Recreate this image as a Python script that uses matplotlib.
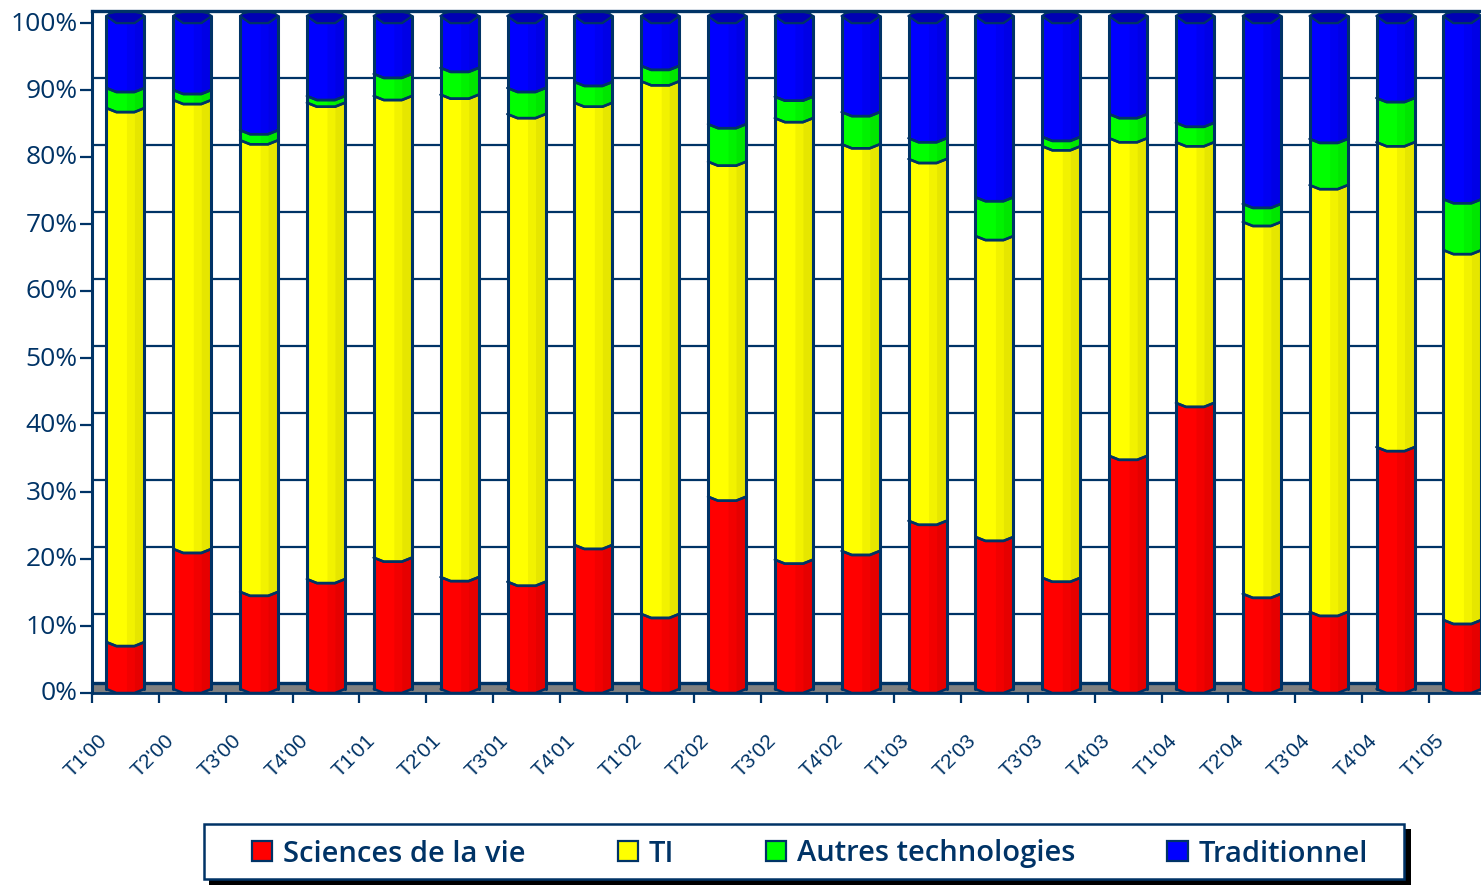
# -*- coding: utf-8 -*-
import numpy as np, matplotlib.pyplot as plt
from matplotlib.patches import Patch, Polygon, Rectangle
from matplotlib.transforms import ScaledTranslation

# ===== DONNEES (% par trimestre) =====
trimestres = ["T1'00","T2'00","T3'00","T4'00","T1'01","T2'01","T3'01","T4'01",
              "T1'02","T2'02","T3'02","T4'02","T1'03","T2'03","T3'03","T4'03",
              "T1'04","T2'04","T3'04","T4'04","T1'05"]
sciences = [7.0,20.9,14.5,16.4,19.6,16.7,16.0,21.5,11.2,28.7,19.3,
            20.6,25.1,22.7,16.6,34.8,42.7,14.2,11.5,36.1,10.3]
ti       = [79.7,67.0,67.4,71.1,68.9,72.0,69.8,66.0,79.5,50.0,65.9,
            60.7,54.0,44.9,64.4,47.4,38.9,55.5,63.7,45.5,55.2]
autres   = [3.0,1.5,1.5,1.0,3.3,4.0,3.9,3.1,2.3,5.6,3.2,
            4.8,3.1,5.8,1.4,3.6,2.9,2.7,6.9,6.6,7.6]
tradi    = [10.3,10.6,16.6,11.5,8.2,7.3,10.3,9.4,7.0,15.7,11.6,
            13.9,17.8,26.6,17.6,14.2,15.5,27.6,17.9,11.8,26.9]
noms = ["Sciences de la vie", "TI", "Autres technologies", "Traditionnel"]
series = [sciences, ti, autres, tradi]
couleurs = [("#FF0000","#F20000","#E60000"), ("#FFFF00","#F2F200","#E6E600"),
            ("#00FF00","#00F200","#00E600"), ("#0000FF","#0000F2","#0000E6")]
NAVY = "#003366"

# ===== GEOMETRIE (pixels image -> donnees) =====
W, H = 1481, 885
X0, Y0, YTOP = 92, 693, 11
PX_X = 66.85; PX_Y = 6.7     # px par categorie, px par %
dx = lambda p: p / PX_X
dy = lambda p: p / PX_Y

fig = plt.figure(figsize=(W/100, H/100), dpi=100, facecolor="white")
ax = fig.add_axes([X0/W, (H-Y0)/H, (W-X0)/W, (Y0-YTOP)/H])
ax.set_xlim(0, (W-X0)/PX_X); ax.set_ylim(0, (Y0-YTOP)/PX_Y)

# mur du fond et sol
yt = np.arange(0, 101, 10)
ax.hlines(yt[1:] + dy(12), 0, len(trimestres)+1, color=NAVY, lw=1.6, zorder=1)
ax.axhspan(0, dy(10), color="#808080", lw=0, zorder=1)
ax.axhline(dy(10), color=NAVY, lw=2.4, zorder=1.5)

# cylindres empiles
px_prof = np.array([-19, -9, 9, 19])
def profil(xc, v, creux):
    xs = xc + dx(px_prof)
    return xs, v + dy(np.array([creux, 0, 0, creux]))

bas = np.zeros(len(trimestres))
for s, vals in enumerate(series):
    vals = np.array(vals)
    for i, v in enumerate(vals):
        xc = i + 0.5
        xb, yb = profil(xc, bas[i], 4)
        xh, yh = profil(xc, bas[i] + v, 7 if s == 3 else 4)
        # bandes superposees (de gauche a droite) pour eviter les joints blancs
        for a, c in zip([-19, 1, 9], couleurs[s]):
            xx = xc + dx(np.array([a, *px_prof[px_prof > a]]))
            ax.fill_between(xx, np.interp(xx, xb, yb), np.interp(xx, xh, yh),
                            color=c, lw=0, zorder=3)
        ax.plot(xb, yb, color=NAVY, lw=1.8, solid_capstyle="round", zorder=4)
        ax.plot(xh, yh, color=NAVY, lw=1.8, solid_capstyle="round", zorder=4)
        ax.plot([xb[0], xh[0]], [yb[0], yh[0]], color=NAVY, lw=2.2, solid_capstyle="round", zorder=4)
        ax.plot([xb[-1], xh[-1]], [yb[-1], yh[-1]], color=NAVY, lw=2.2, solid_capstyle="round", zorder=4)
        if s == 3:
            top = bas[i] + v
            cap = np.column_stack([
                xc + dx(np.array([-19, -9, 9, 19, 16, 10, -10, -16])),
                top + dy(np.array([7, 0, 0, 7, 9.5, 11, 11, 9.5]))])
            ax.add_patch(Polygon(cap, closed=True, fc="#0000B4", ec=NAVY, lw=1.4,
                                 joinstyle="round", zorder=5))
    bas = bas + vals

# axes
ax.spines["right"].set_visible(False)
ax.spines["left"].set_linewidth(2.2); ax.spines["top"].set_linewidth(2.4)
ax.spines["bottom"].set_linewidth(2.0)
for sp in ax.spines.values():
    sp.set_color(NAVY); sp.set_zorder(6)
ax.set_yticks(yt); ax.set_yticklabels([f"{v}%" for v in yt])
ax.tick_params(axis="y", length=8.5, width=1.6, color=NAVY, labelcolor=NAVY,
               labelsize=19, pad=2)
haut = ScaledTranslation(0, 2/100, fig.dpi_scale_trans)
for l in ax.get_yticklabels():
    l.set_family("Open Sans")
    l.set_transform(l.get_transform() + haut)
ax.set_xticks(np.arange(len(trimestres)))
ax.set_xticklabels(trimestres, rotation=45, ha="center", va="top",
                   family="Liberation Sans", fontsize=15, color=NAVY)
ax.tick_params(axis="x", length=7.5, width=1.6, color=NAVY, pad=20)
decal = ScaledTranslation(-6/100, 0, fig.dpi_scale_trans)
for l in ax.get_xticklabels():
    l.set_transform(l.get_transform() + decal)

# cadre de legende avec ombre
def cadre(x0, y0, x1, y1, **kw):
    fig.add_artist(Rectangle((x0/W, (H-y1)/H), (x1-x0)/W, (y1-y0)/H,
                             transform=fig.transFigure, **kw))
cadre(209, 829, 1411, 885, fc="black", ec="none", zorder=1)
cadre(204, 824, 1404, 879, fc="white", ec=NAVY, lw=1.8, zorder=2)

poignees = [Patch(fc=c[0], ec=NAVY, lw=1.6, label=n) for c, n in zip(couleurs, noms)]
leg = fig.legend(handles=poignees, loc="center", ncol=4,
                 bbox_to_anchor=(810/W, (H-854)/H), frameon=False,
                 prop={"family": "Open Sans", "weight": "semibold", "size": 21},
                 labelcolor=NAVY, handlelength=0.69, handleheight=0.69,
                 handletextpad=0.38, columnspacing=3.15, borderpad=0)
leg.set_zorder(3)

fig.savefig("out.png", dpi=100)
